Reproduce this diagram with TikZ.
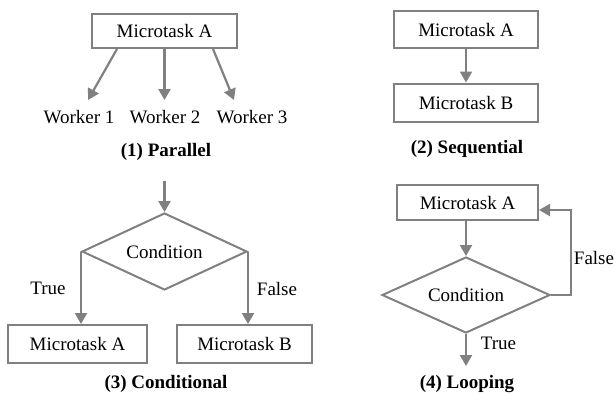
\documentclass[tikz,border=0pt]{standalone}
\usepackage{fontspec}
\setmainfont{Liberation Serif}
\usetikzlibrary{shapes.geometric,arrows.meta}
\definecolor{lg}{RGB}{128,128,128}
\tikzset{
  box/.style={draw=lg,line width=2pt,rectangle,inner sep=0pt,minimum width=#1,minimum height=36pt},
  cond/.style={draw=lg,line width=2pt,diamond,inner sep=0pt,shape aspect=2.15},
  arr/.style={draw=lg,line width=2.2pt,-{Triangle[length=11pt,width=12pt]}},
  lbl/.style={inner sep=0pt},
  ttl/.style={inner sep=0pt,font=\bfseries\fontsize{19}{22}\selectfont},
}
\begin{document}
\begin{tikzpicture}[x=1pt,y=-1pt,font=\fontsize{19}{22}\selectfont]
\useasboundingbox (0,0) rectangle (615,394);
% (1) Parallel
\node[box=145pt,minimum height=34pt] (p1) at (164.5,31) {Microtask A};
\node[lbl] (w1) at (79,117) {Worker 1};
\node[lbl] (w2) at (165,117) {Worker 2};
\node[lbl] (w3) at (252,117) {Worker 3};
\coordinate (e1) at (88,100);
\coordinate (e2) at (164.5,100);
\coordinate (e3) at (234,100);
\draw[arr] ([xshift=-47.5pt]p1.south) -- (e1);
\draw[arr] (p1.south) -- (e2);
\draw[arr] ([xshift=48.5pt]p1.south) -- (e3);
\node[ttl] (t1) at (166,152) {(1) Parallel};
% (2) Sequential
\node[box=144pt,minimum height=37pt] (a2) at (466,29.5) {Microtask A};
\node[box=144pt,minimum height=38pt] (b2) at (466,102.5) {Microtask B};
\draw[arr] (a2.south) -- (b2.north);
\node[ttl] (t2) at (467,149) {(2) Sequential};
% (3) Conditional
\coordinate (s3) at (164.5,181);
\node[cond,minimum width=165pt,minimum height=77pt] (d3) at (164.5,251.5) {Condition};
\node[box=139pt,minimum height=38pt] (a3) at (77.5,344) {Microtask A};
\node[box=135pt,minimum height=38pt] (b3) at (244.5,344) {Microtask B};
\draw[arr] (s3) -- (d3.north);
\draw[arr] (d3.west) -- (d3.west |- a3.north);
\draw[arr] (d3.east) -- (d3.east |- b3.north);
\node[lbl] (tr3) at (48,288) {True};
\node[lbl] (fa3) at (277,289) {False};
\node[ttl] (t3) at (166,383.5) {(3) Conditional};
% (4) Looping
\node[box=141pt,minimum height=35pt] (a4) at (467.5,202.5) {Microtask A};
\node[cond,minimum width=168pt,minimum height=76pt] (d4) at (466,295) {Condition};
\coordinate (e4) at (466,366);
\draw[arr] (a4.south -| d4.north) -- (d4.north);
\draw[arr] (d4.east) -- ++(20pt,0) |- ([yshift=-7.5pt]a4.east);
\draw[arr] (d4.south) -- (e4);
\node[lbl] (fa4) at (594,258) {False};
\node[lbl] (tr4) at (498.5,343) {True};
\node[ttl] (t4) at (467,384) {(4) Looping};
\end{tikzpicture}
\end{document}
